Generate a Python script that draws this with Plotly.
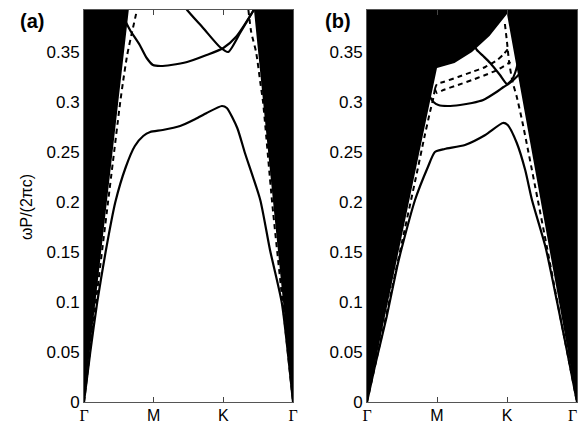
import plotly.graph_objects as go

# k-path positions: Γ=0, M=1, K=2, Γ=3
k_ticks = [0, 1, 2, 3]
k_labels = ['<span style="font-family:Liberation Serif">Γ</span>', 'M', 'K',
            '<span style="font-family:Liberation Serif">Γ</span>']
k_labels_b = ['<span style="font-family:Liberation Serif">Γ</span>', 'M', 'K',
              '<span style="font-family:Liberation Serif">Γ</span>&nbsp;&nbsp;']
y_ticks = [0, 0.05, 0.1, 0.15, 0.2, 0.25, 0.3, 0.35]
y_labels = ['0', '0.05', '0.1', '0.15', '0.2', '0.25', '0.3', '0.35']

# light lines (boundary of black light-cone region)
light_k = [0, 1, 1.25, 1.5, 1.75, 2, 3]
light_a = [0, 0.61, 0.62, 0.645, 0.67, 0.70, 0]
light_b = [0, 0.334, 0.339, 0.350, 0.366, 0.388, 0]

# panel (a) bands
a1_k = [0, 0.09, 0.19, 0.31, 0.45, 0.60, 0.73, 0.85, 0.95, 1.13, 1.38, 1.6, 1.76, 1.98, 2.05, 2.2, 2.31, 2.53, 2.67, 2.84, 3]
a1_w = [0, 0.05, 0.1, 0.15, 0.2, 0.235, 0.256, 0.266, 0.270, 0.272, 0.276, 0.283, 0.289, 0.296, 0.294, 0.274, 0.249, 0.202, 0.152, 0.099, 0]
a2_k = [0.60, 0.66, 0.80, 0.90, 0.99, 1.1, 1.25, 1.48, 1.76, 2.0, 2.18, 2.41, 2.5]
a2_w = [0.380, 0.372, 0.357, 0.344, 0.337, 0.336, 0.337, 0.340, 0.347, 0.354, 0.365, 0.389, 0.40]
a3_k = [1.40, 1.48, 1.71, 1.95, 2.07, 2.24, 2.42, 2.5]
a3_w = [0.40, 0.392, 0.374, 0.355, 0.350, 0.369, 0.390, 0.40]
a_dl_k = [0, 0.17, 0.345, 0.52, 0.56, 0.62, 0.69, 0.76]
a_dl_w = [0, 0.1, 0.2, 0.3, 0.32, 0.347, 0.37, 0.392]
a_dr_k = [2.36, 2.40, 2.47, 2.53, 2.57, 2.70, 2.85, 3]
a_dr_w = [0.392, 0.37, 0.35, 0.32, 0.30, 0.2, 0.1, 0]

# panel (b) bands
b1_k = [0, 0.11, 0.28, 0.43, 0.5, 0.686, 0.87, 0.97, 1.11, 1.4, 1.69, 1.94, 2.01, 2.14, 2.26, 2.357, 2.55, 2.71, 2.86, 3]
b1_w = [0, 0.035, 0.085, 0.135, 0.155, 0.202, 0.235, 0.250, 0.253, 0.257, 0.267, 0.279, 0.277, 0.259, 0.232, 0.202, 0.155, 0.102, 0.05, 0]
b2_k = [0.90, 0.95, 1.02, 1.15, 1.33, 1.5, 1.66, 1.85, 1.95, 2.04, 2.15, 2.2]
b2_w = [0.305, 0.300, 0.297, 0.296, 0.297, 0.299, 0.302, 0.310, 0.315, 0.319, 0.326, 0.330]
b3_k = [1.50, 1.57, 1.66, 1.76, 1.9, 2.0, 2.07, 2.12, 2.16]
b3_w = [0.36, 0.352, 0.346, 0.339, 0.327, 0.318, 0.322, 0.330, 0.340]
b_d1_k = [0.97, 1.0, 1.09, 1.3, 1.5, 1.69, 1.86, 1.94, 2.05]
b_d1_w = [0.313, 0.318, 0.320, 0.325, 0.330, 0.335, 0.342, 0.347, 0.356]
b_d2_k = [0.97, 1.0, 1.09, 1.3, 1.5, 1.69, 1.86, 2.05]
b_d2_w = [0.313, 0.309, 0.312, 0.317, 0.322, 0.327, 0.332, 0.340]
b_dl_k = [0, 0.3, 0.5, 0.7, 0.82, 0.9, 0.95, 0.97]
b_dl_w = [0, 0.095, 0.160, 0.225, 0.265, 0.29, 0.305, 0.313]
b_dr_k = [1.97, 2.0, 2.03, 2.08, 2.14, 2.22, 2.30, 2.44, 2.57, 2.72, 2.86, 3]
b_dr_w = [0.378, 0.36, 0.34, 0.32, 0.305, 0.28, 0.252, 0.202, 0.155, 0.1, 0.05, 0]

fig = go.Figure()

def add_panel(xa, ya, light_w, solids, dashes):
    fig.add_trace(go.Scatter(x=light_k, y=light_w, mode='lines', fill='tozeroy',
                             fillcolor='white', line=dict(width=0, color='white'),
                             xaxis=xa, yaxis=ya, hoverinfo='skip'))
    for kx, wy in dashes:
        fig.add_trace(go.Scatter(x=kx, y=wy, mode='lines',
                                 line=dict(color='black', width=2, dash='5px,4px',
                                           shape='spline', smoothing=0.6),
                                 xaxis=xa, yaxis=ya))
    for kx, wy in solids:
        fig.add_trace(go.Scatter(x=kx, y=wy, mode='lines',
                                 line=dict(color='black', width=2.2,
                                           shape='spline', smoothing=0.6),
                                 xaxis=xa, yaxis=ya))

add_panel('x', 'y', light_a,
          [(a1_k, a1_w), (a2_k, a2_w), (a3_k, a3_w)],
          [(a_dl_k, a_dl_w), (a_dr_k, a_dr_w)])
add_panel('x2', 'y2', light_b,
          [(b1_k, b1_w), (b2_k, b2_w), (b3_k, b3_w)],
          [(b_d1_k, b_d1_w), (b_d2_k, b_d2_w), (b_dl_k, b_dl_w), (b_dr_k, b_dr_w)])

ytickfont = dict(family='Liberation Sans, Arial, sans-serif', size=17, color='black')
xtickfont = dict(family='Liberation Sans, Arial, sans-serif', size=16, color='black')
xcommon = dict(range=[0, 3], tickvals=k_ticks, ticks='inside',
               ticklen=5, tickcolor='#444', showline=True, linecolor='#555',
               linewidth=1, mirror='ticks', showgrid=False, zeroline=False,
               tickfont=xtickfont, automargin=False, ticklabeloverflow='allow',
               ticklabelstandoff=-1)
ycommon = dict(range=[0, 0.392], tickvals=y_ticks, ticktext=y_labels, ticks='',
               showline=True, linecolor='#555', linewidth=1, mirror=True,
               showgrid=False, zeroline=False, tickfont=ytickfont, automargin=False)

fig.update_layout(
    width=580, height=425,
    margin=dict(l=0, r=0, t=10, b=23, autoexpand=False),
    paper_bgcolor='white', plot_bgcolor='black',
    showlegend=False,
    xaxis=dict(domain=[84/580, 293/580], anchor='y', ticktext=k_labels, **xcommon),
    yaxis=dict(domain=[0, 1], anchor='x', **ycommon),
    xaxis2=dict(domain=[367/580, 577/580], anchor='y2', ticktext=k_labels_b, **xcommon),
    yaxis2=dict(domain=[0, 1], anchor='x2', **ycommon),
    annotations=[
        dict(text='ωP/(2πc)', x=26, y=207, showarrow=False, textangle=-90,
             font=dict(family='Liberation Sans, Arial, sans-serif', size=16, color='black')),
        dict(text='<b>(a)</b>', x=32, y=21, showarrow=False,
             font=dict(family='Liberation Sans, Arial, sans-serif', size=20, color='black')),
        dict(text='<b>(b)</b>', x=338, y=21, showarrow=False,
             font=dict(family='Liberation Sans, Arial, sans-serif', size=20, color='black')),
    ],
)

# convert pixel annotation positions to paper coordinates
plot_w, plot_h = 580, 425 - 10 - 23
for ann in fig.layout.annotations:
    ann.xref = 'paper'
    ann.yref = 'paper'
    ann.x = ann.x / plot_w
    ann.y = (425 - 23 - ann.y) / plot_h
    ann.xanchor = 'center'
    ann.yanchor = 'middle'

fig.write_html('out.html', config={'displayModeBar': False},
               post_script="document.body.style.margin='0px';document.body.style.overflow='hidden';")
